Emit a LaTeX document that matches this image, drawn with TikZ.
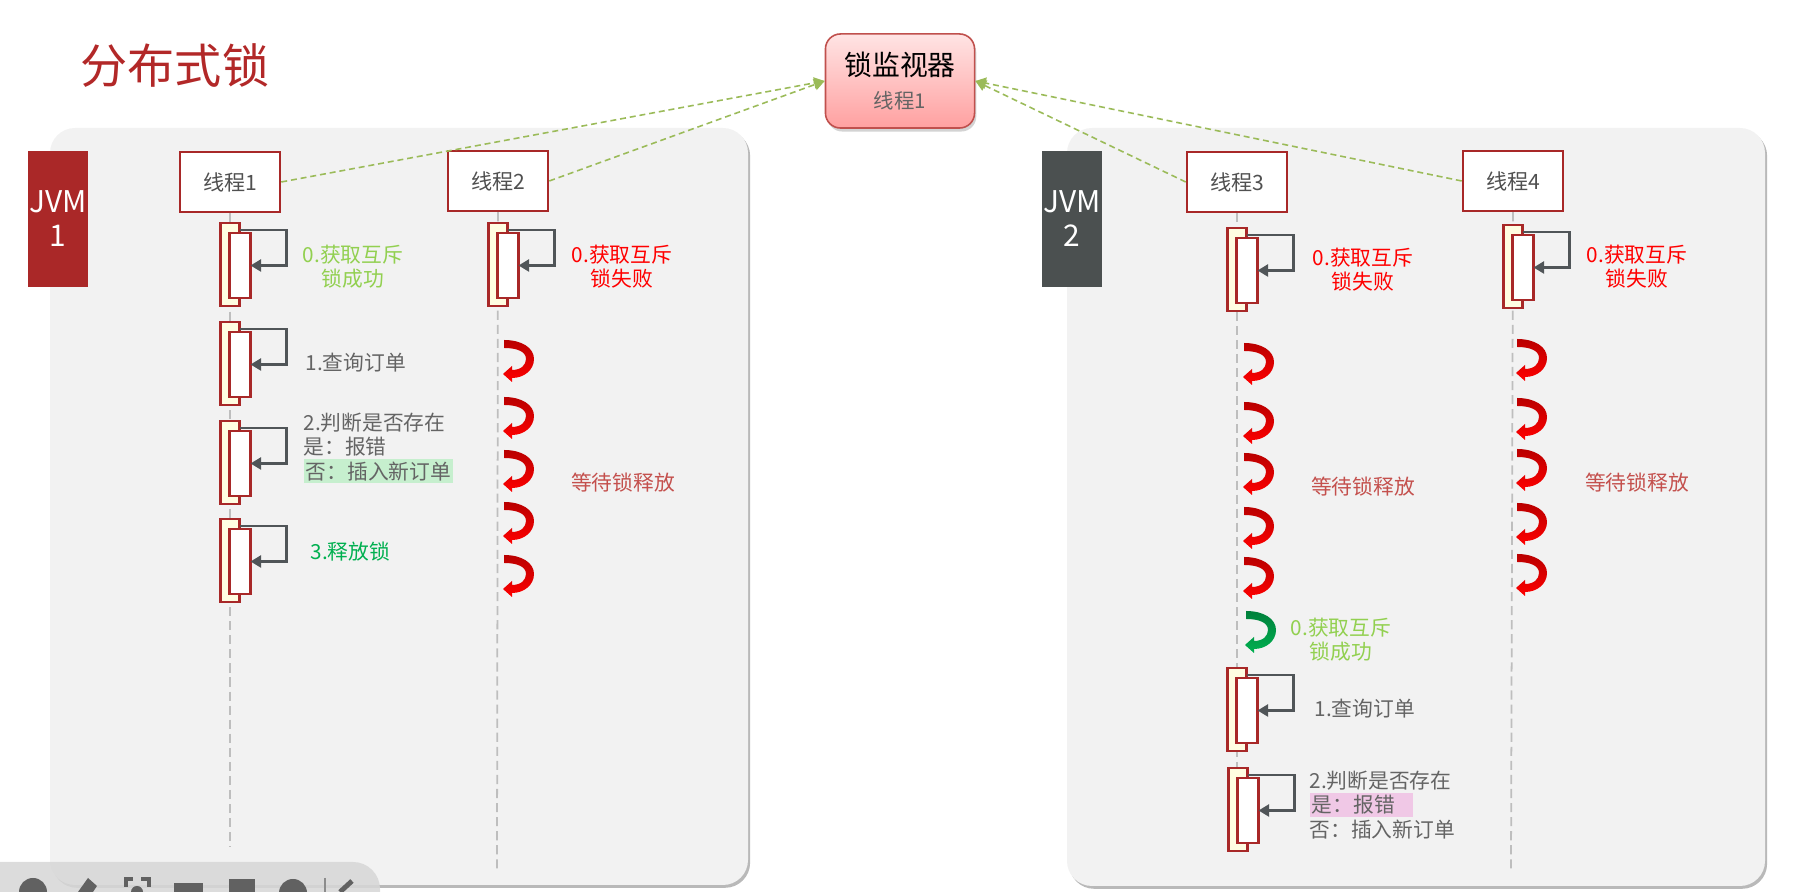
\documentclass[tikz,border=0pt]{standalone}
\usepackage{fontspec}
\setmainfont{Noto Sans CJK SC}
\usepackage{tikz}
\usetikzlibrary{arrows.meta,shadows}

\definecolor{titlered}{RGB}{178,40,40}
\definecolor{jvmred}{RGB}{170,40,40}
\definecolor{jvmgray}{RGB}{75,80,80}
\definecolor{boxred}{RGB}{168,40,40}
\definecolor{panelgray}{RGB}{242,242,242}
\definecolor{cream}{RGB}{255,253,225}
\definecolor{loopgray}{RGB}{80,85,88}
\definecolor{lifegray}{RGB}{190,190,190}
\definecolor{okgreen}{RGB}{146,208,80}
\definecolor{okdark}{RGB}{0,128,60}
\definecolor{failred}{RGB}{255,0,0}
\definecolor{waitdark}{RGB}{185,0,0}
\definecolor{txtgray}{RGB}{100,100,100}
\definecolor{txtdark}{RGB}{80,80,80}
\definecolor{relgreen}{RGB}{0,176,80}
\definecolor{waitred}{RGB}{196,80,77}
\definecolor{dashgreen}{RGB}{155,187,89}
\definecolor{hlgreen}{RGB}{198,239,206}
\definecolor{hlpink}{RGB}{240,200,230}
\definecolor{monborder}{RGB}{192,80,77}
\definecolor{montop}{RGB}{255,228,228}
\definecolor{monbot}{RGB}{255,160,160}

% activation bar with its self call: name, lifeline x, top y
\newcommand{\actbar}[3]{%
  \node[actout] (#1) at (#2,#3+41.5) {};
  \node[actin] (#1i) at (#2+10,#3+42.5) {};
  \draw[selfloop] ([shift={(0,7)}]#1.north east) -- ++(47,0) |- (#1i.east);
}
\newcommand{\hl}[2]{{\setlength{\fboxsep}{0.6pt}\colorbox{#1}{#2}}}

\tikzset{
  waitarr/.pic={
    \path[pic actions] (0,0) .. controls (18,0) and (30,8) .. (30,19)
      .. controls (30,30) and (20,38) .. (8,38) -- (8,42) -- (-1,34) -- (8,26) -- (8,30)
      .. controls (17,30) and (22,25) .. (22,19) .. controls (22,12) and (14,8) .. (0,8) -- cycle;
  }
}

\begin{document}
\begin{tikzpicture}[x=0.01cm, y=-0.01cm,
  panel/.style={fill=panelgray, rounded corners=0.25cm,
    drop shadow={shadow xshift=0.6pt, shadow yshift=-0.8pt, fill=black!55, opacity=0.5}},
  jvm/.style={minimum width=0.6cm, minimum height=1.36cm, inner sep=0pt, text=white,
    align=center, font=\fontsize{8.5}{9.7}\selectfont},
  thread/.style={draw=boxred, line width=0.7pt, fill=white, minimum width=1cm,
    minimum height=0.6cm, text=txtdark, font=\fontsize{6}{7}\selectfont},
  monitor/.style={draw=monborder, line width=0.45pt, rounded corners=0.15cm,
    top color=montop, bottom color=monbot, minimum width=1.49cm, minimum height=0.94cm,
    align=center, drop shadow={shadow xshift=0.5pt, shadow yshift=-1pt, opacity=0.35}},
  lifeline/.style={draw=lifegray, line width=0.5pt, dash pattern=on 2.6pt off 1.4pt},
  actout/.style={draw=boxred, line width=0.6pt, fill=cream, minimum width=0.19cm,
    minimum height=0.83cm, inner sep=0pt, outer sep=0pt},
  actin/.style={draw=boxred, line width=0.6pt, fill=white, minimum width=0.21cm,
    minimum height=0.65cm, inner sep=0pt, outer sep=0pt},
  selfloop/.style={draw=loopgray, line width=0.7pt, -{Triangle[length=3pt, width=3.4pt]}},
  link/.style={draw=dashgreen, line width=0.45pt, dash pattern=on 1.7pt off 1.1pt,
    -{Triangle[length=3pt, width=3.2pt]}},
  lbl/.style={inner sep=0pt, align=center, font=\fontsize{5.9}{6.9}\selectfont},
  redwait/.style={top color=waitdark, bottom color=failred},
  greenwait/.style={top color=okdark, bottom color=relgreen},
  toolbar/.style={fill=black!16, opacity=0.85},
  toolicon/.style={fill=black!62},
]
  \useasboundingbox (0,0) rectangle (1820,892);

  \node[font=\fontsize{13.4}{16}\selectfont, text=titlered] (title) at (175,66) {分布式锁};

  \fill[panel] (50,128) rectangle (748,885);
  \fill[panel] (1067,128) rectangle (1765,886);

  \node[jvm, fill=jvmred] (jvm1) at (58,219) {JVM\\1};
  \node[jvm, fill=jvmgray] (jvm2) at (1072,219) {JVM\\2};

  \node[thread] (t1) at (230,182) {线程1};
  \node[thread] (t2) at (498,181) {线程2};
  \node[thread] (t3) at (1237,182) {线程3};
  \node[thread] (t4) at (1513,181) {线程4};

  \node[monitor] (mon) at (900,81) {\fontsize{7.9}{9}\selectfont 锁监视器\\[-2.4pt]
    {\fontsize{5.8}{7}\selectfont\color{txtgray}线程1}};

  \coordinate (t1end) at (230,847);
  \coordinate (t2end) at (497,872);
  \coordinate (t3end) at (1237,845);
  \coordinate (t4end) at (1511,870);
  \draw[lifeline] (t1.south) -- (t1end);
  \draw[lifeline] (t2.south) -- (t2end);
  \draw[lifeline] (t3.south) -- (t3end);
  \draw[lifeline] (t4.south) -- (t4end);

  \actbar{t1s0}{230}{223}
  \actbar{t1s1}{230}{322}
  \actbar{t1s2}{230}{421}
  \actbar{t1s3}{230}{519}
  \actbar{t2s0}{498}{223}
  \actbar{t3s0}{1237}{228}
  \actbar{t3s1}{1237}{668}
  \actbar{t3s2}{1238}{768}
  \actbar{t4s0}{1513}{225}

  \foreach \y in {340,397,450,502,555} \pic[redwait] at (504,\y) {waitarr};
  \foreach \y in {343,402,453,507,557} \pic[redwait] at (1244,\y) {waitarr};
  \foreach \y in {339,398,449,503,554} \pic[redwait] at (1517,\y) {waitarr};
  \pic[greenwait] at (1246,611) {waitarr};

  \node[lbl, text=okgreen] (t1l0) at (353,267) {0.获取互斥\\锁成功};
  \node[lbl, text=txtgray, anchor=west] (t1l1) at (305,363) {1.查询订单};
  \node[lbl, text=txtgray, anchor=west, align=left] (t1l2) at (303,448)
    {2.判断是否存在\\是：报错\\\hl{hlgreen}{否：插入新订单}};
  \node[lbl, text=relgreen, anchor=west] (t1l3) at (310,552) {3.释放锁};
  \node[lbl, text=failred] (t2l0) at (622,267) {0.获取互斥\\锁失败};
  \node[lbl, text=waitred] (t2w) at (623,483) {等待锁释放};
  \node[lbl, text=failred] (t3l0) at (1363,270) {0.获取互斥\\锁失败};
  \node[lbl, text=waitred] (t3w) at (1363,487) {等待锁释放};
  \node[lbl, text=okgreen] (t3l3) at (1341,640) {0.获取互斥\\锁成功};
  \node[lbl, text=txtgray, anchor=west] (t3l1) at (1314,709) {1.查询订单};
  \node[lbl, text=txtgray, anchor=west, align=left] (t3l2) at (1309,805)
    {2.判断是否存在\\\hl{hlpink}{是：报错\hspace{4.5pt}}\\否：插入新订单};
  \node[lbl, text=failred] (t4l0) at (1637,267) {0.获取互斥\\锁失败};
  \node[lbl, text=waitred] (t4w) at (1637,483) {等待锁释放};

  \draw[link] (t1.east) -- (mon.west);
  \draw[link] (t2.east) -- (mon.west);
  \draw[link] (t3.west) -- (mon.east);
  \draw[link] (t4.west) -- (mon.east);

  \fill[toolbar] (0,862) -- (353,862) arc[start angle=-90, end angle=0, radius=27]
    -- (380,892) -- (0,892) -- cycle;
  \fill[toolicon] (33,892) circle (14);
  \fill[toolicon] (78,892) -- (88,878) -- (97,886) -- (93,892) -- cycle;
  \draw[toolicon, draw=black!62, fill=none, line width=1.1pt]
    (126,887) -- (126,879) -- (133,879) (141,879) -- (149,879) -- (149,887);
  \fill[toolicon] (137,892) circle (6);
  \fill[toolicon] (174,883) rectangle (203,892);
  \fill[toolicon] (229,879) rectangle (255,892);
  \fill[toolicon] (293,893) circle (14);
  \draw[black!45, line width=0.4pt] (325,878) -- (325,892);
  \draw[black!62, line width=1.4pt] (340,892) -- (352,881);
\end{tikzpicture}
\end{document}
